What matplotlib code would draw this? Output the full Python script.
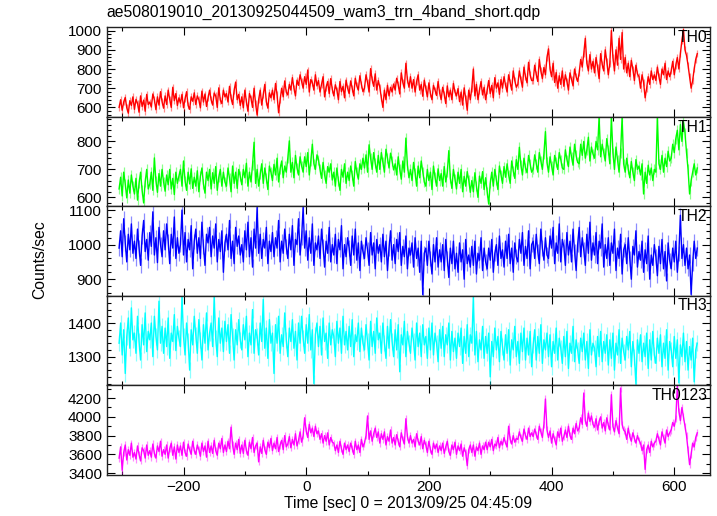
import numpy as np
import matplotlib
matplotlib.use("Agg")
import matplotlib.pyplot as plt
from matplotlib.ticker import MultipleLocator

plt.rcParams['font.family'] = ['Liberation Sans', 'DejaVu Sans']

title = "ae508019010_20130925044509_wam3_trn_4band_short.qdp"
xlabel = "Time [sec] 0 = 2013/09/25 04:45:09"
ylabel = "Counts/sec"
band_names = ["TH0", "TH1", "TH2", "TH3", "TH0123"]

# light-curve bins: start time and bin width (s)
t_start = -305.0
t_bin = 2.5

th0 = [
    600, 640, 585, 628, 652, 598, 570, 635, 610, 655,
    590, 642, 622, 575, 660, 605, 638, 580, 668, 615,
    628, 602, 670, 640, 588, 655, 612, 682, 630, 596,
    660, 615, 690, 642, 600, 705, 635, 672, 610, 650,
    622, 668, 598, 645, 682, 610, 590, 655, 632, 676,
    615, 660, 640, 598, 685, 628, 670, 605, 650, 690,
    640, 612, 675, 660, 600, 702, 638, 620, 690, 655,
    672, 628, 710, 650, 615, 688, 732, 640, 668, 610,
    655, 598, 690, 630, 580, 672, 648, 600, 700, 620,
    560, 640, 690, 612, 668, 720, 630, 596, 676, 650,
    690, 640, 725, 665, 572, 640, 700, 655, 738, 680,
    665, 720, 690, 755, 700, 660, 742, 715, 770, 735,
    700, 760, 720, 795, 680, 745, 730, 690, 770, 712,
    740, 680, 720, 760, 655, 705, 735, 672, 750, 695,
    660, 718, 690, 640, 735, 682, 710, 650, 742, 700,
    672, 738, 700, 660, 752, 712, 690, 765, 720, 682,
    700, 770, 730, 680, 802, 745, 710, 775, 690, 740,
    705, 650, 600, 690, 640, 715, 660, 705, 680, 722,
    690, 752, 718, 670, 780, 730, 700, 830, 745, 705,
    760, 700, 745, 680, 735, 770, 690, 720, 658, 742,
    700, 655, 728, 672, 640, 715, 690, 662, 735, 676,
    640, 705, 668, 620, 712, 655, 690, 640, 725, 680,
    660, 698, 630, 680, 612, 702, 648, 585, 690, 640,
    700, 800, 660, 720, 640, 690, 735, 665, 705, 640,
    690, 740, 672, 715, 650, 755, 700, 728, 668, 745,
    700, 760, 715, 680, 770, 730, 690, 790, 740, 705,
    720, 790, 745, 705, 810, 760, 728, 835, 770, 740,
    740, 820, 772, 735, 850, 790, 750, 808, 770, 860,
    905, 800, 760, 830, 730, 782, 700, 765, 720, 790,
    710, 770, 735, 690, 780, 745, 712, 800, 760, 735,
    780, 850, 810, 880, 960, 830, 790, 875, 800, 840,
    780, 860, 810, 750, 880, 825, 790, 900, 840, 770,
    830, 1000, 860, 790, 900, 820, 960, 850, 990, 800,
    860, 780, 830, 760, 845, 800, 740, 820, 775, 760,
    700, 770, 730, 650, 700, 760, 720, 790, 745, 770,
    740, 810, 760, 720, 800, 770, 830, 745, 790, 760,
    790, 840, 770, 820, 860, 800, 880, 950, 1005, 900,
    870, 820, 760, 700, 740, 800, 850, 880,
]

th1 = [
    630, 672, 605, 690, 648, 598, 662, 615, 680, 640,
    612, 668, 590, 650, 690, 625, 580, 655, 700, 630,
    648, 690, 625, 741, 660, 618, 685, 640, 700, 655,
    622, 680, 645, 700, 630, 668, 610, 690, 650, 676,
    700, 640, 730, 660, 625, 690, 648, 702, 632, 672,
    640, 695, 620, 675, 705, 648, 615, 690, 660, 700,
    630, 688, 650, 710, 625, 672, 700, 640, 690, 655,
    640, 705, 668, 620, 712, 650, 690, 632, 700, 675,
    645, 700, 670, 722, 640, 690, 655, 715, 797, 650,
    700, 640, 682, 720, 650, 705, 668, 628, 712, 690,
    660, 718, 680, 740, 655, 702, 730, 670, 712, 690,
    740, 802, 690, 725, 670, 750, 705, 680, 745, 712,
    690, 745, 710, 760, 680, 730, 790, 720, 700, 752,
    735, 700, 668, 725, 680, 650, 710, 690, 720, 662,
    690, 640, 705, 660, 625, 700, 672, 720, 650, 690,
    660, 712, 680, 640, 728, 690, 665, 720, 700, 740,
    705, 752, 690, 788, 740, 700, 760, 722, 690, 750,
    700, 760, 725, 690, 772, 740, 705, 758, 730, 698,
    720, 680, 745, 700, 665, 730, 690, 812, 715, 670,
    700, 660, 725, 688, 640, 712, 670, 730, 692, 655,
    640, 700, 660, 690, 628, 712, 672, 640, 702, 660,
    685, 640, 710, 655, 690, 767, 668, 632, 700, 665,
    630, 690, 650, 700, 620, 675, 640, 692, 662, 618,
    660, 620, 688, 640, 600, 676, 650, 692, 628, 670,
    620, 576, 650, 690, 640, 700, 662, 628, 712, 680,
    650, 710, 672, 720, 680, 650, 730, 695, 668, 735,
    700, 779, 715, 680, 740, 705, 688, 750, 720, 690,
    700, 752, 720, 690, 760, 730, 700, 755, 835, 725,
    690, 745, 712, 680, 750, 725, 700, 760, 735, 705,
    700, 770, 735, 710, 780, 745, 715, 790, 750, 725,
    720, 790, 750, 800, 740, 770, 815, 730, 780, 755,
    740, 800, 770, 888, 745, 790, 760, 730, 810, 770,
    720, 888, 760, 700, 780, 735, 690, 760, 888, 720,
    690, 740, 700, 670, 728, 690, 660, 735, 700, 712,
    680, 720, 612, 690, 650, 715, 680, 705, 660, 700,
    690, 888, 720, 700, 750, 690, 740, 710, 765, 730,
    740, 790, 760, 810, 840, 770, 860, 800, 870, 830,
    760, 700, 612, 660, 690, 720, 680, 705,
]

th2 = [
    990, 1040, 965, 1075, 1005, 950, 1030, 985, 1060, 975,
    1010, 960, 1045, 990, 940, 1025, 1070, 980, 1015, 955,
    1035, 995, 1095, 970, 1020, 948, 1050, 1000, 965, 1040,
    985, 1060, 1010, 945, 1030, 990, 1080, 960, 1020, 975,
    1000, 1100, 970, 1035, 950, 1015, 985, 1055, 930, 1010,
    1045, 975, 1020, 960, 1065, 995, 940, 1030, 1005, 1050,
    965, 1025, 990, 1060, 950, 1015, 980, 1040, 920, 1005,
    1030, 985, 1070, 960, 1010, 945, 1050, 995, 1025, 970,
    1000, 950, 1040, 985, 1065, 965, 1020, 935, 1045, 990,
    1108, 975, 1030, 960, 1015, 990, 1050, 945, 1010, 980,
    1035, 965, 1020, 990, 1070, 950, 1010, 975, 1045, 995,
    960, 1030, 985, 1055, 940, 1015, 1000, 1075, 970, 1020,
    1108, 990, 1040, 955, 1020, 975, 1060, 940, 1005, 985,
    1025, 960, 1045, 995, 935, 1010, 975, 1050, 950, 1000,
    970, 1030, 945, 1015, 985, 1055, 930, 1000, 965, 1020,
    990, 940, 1025, 970, 1045, 955, 1005, 925, 1010, 980,
    960, 1020, 985, 940, 1035, 970, 1005, 930, 1015, 975,
    1000, 950, 1030, 965, 1010, 925, 990, 1040, 955, 1000,
    945, 1015, 980, 1035, 940, 995, 965, 1025, 930, 990,
    970, 1005, 935, 1020, 960, 990, 920, 1010, 855, 975,
    990, 940, 1010, 960, 915, 1000, 950, 1020, 935, 985,
    950, 1000, 925, 1015, 960, 905, 990, 945, 1010, 930,
    975, 920, 1005, 950, 985, 900, 1015, 945, 970, 935,
    995, 940, 1010, 915, 975, 955, 1020, 925, 990, 950,
    930, 990, 955, 1015, 920, 975, 1000, 940, 1025, 960,
    985, 935, 1010, 960, 1030, 945, 990, 920, 1005, 965,
    950, 1015, 975, 1035, 940, 995, 960, 1040, 930, 1000,
    1010, 960, 1030, 980, 945, 1045, 990, 955, 1020, 970,
    960, 1025, 990, 1050, 945, 1005, 975, 1060, 950, 1015,
    995, 940, 1035, 970, 1010, 950, 1045, 980, 925, 1000,
    1050, 965, 1020, 985, 940, 1030, 975, 1065, 955, 1005,
    970, 1035, 945, 1010, 990, 1060, 935, 1000, 960, 1020,
    940, 1005, 975, 1045, 925, 990, 960, 1030, 915, 985,
    1000, 945, 1020, 960, 900, 995, 970, 1040, 935, 980,
    955, 1010, 920, 985, 945, 1025, 900, 970, 940, 1000,
    965, 910, 995, 945, 1015, 930, 980, 895, 1005, 955,
    930, 990, 950, 1010, 920, 975, 1085, 960, 1000, 940,
    990, 930, 970, 856, 945, 1010, 960, 990,
]

th3 = [
    1340, 1400, 1305, 1380, 1250, 1360, 1415, 1325, 1445, 1350,
    1370, 1310, 1420, 1345, 1290, 1395, 1335, 1430, 1315, 1375,
    1350, 1400, 1300, 1420, 1360, 1320, 1465, 1340, 1390, 1310,
    1385, 1330, 1415, 1295, 1370, 1345, 1425, 1318, 1390, 1355,
    1330, 1478, 1360, 1305, 1400, 1345, 1260, 1380, 1335, 1420,
    1365, 1310, 1410, 1350, 1290, 1395, 1340, 1430, 1320, 1370,
    1400, 1330, 1478, 1355, 1300, 1415, 1340, 1385, 1315, 1405,
    1345, 1395, 1310, 1425, 1360, 1290, 1380, 1335, 1410, 1350,
    1320, 1395, 1350, 1420, 1300, 1370, 1335, 1440, 1310, 1380,
    1360, 1305, 1400, 1345, 1470, 1325, 1385, 1295, 1410, 1340,
    1370, 1250, 1395, 1340, 1420, 1310, 1365, 1330, 1430, 1350,
    1300, 1385, 1345, 1410, 1325, 1375, 1290, 1400, 1340, 1420,
    1355, 1310, 1395, 1340, 1425, 1320, 1380, 1220, 1365, 1400,
    1330, 1390, 1305, 1415, 1345, 1370, 1295, 1400, 1335, 1380,
    1360, 1300, 1405, 1340, 1385, 1310, 1420, 1335, 1375, 1320,
    1390, 1330, 1410, 1300, 1365, 1345, 1400, 1315, 1385, 1340,
    1320, 1395, 1345, 1290, 1405, 1330, 1375, 1310, 1415, 1350,
    1370, 1310, 1400, 1340, 1295, 1390, 1325, 1410, 1345, 1300,
    1380, 1320, 1395, 1255, 1365, 1335, 1405, 1300, 1375, 1340,
    1310, 1385, 1345, 1290, 1400, 1330, 1370, 1300, 1395, 1335,
    1360, 1295, 1385, 1320, 1400, 1305, 1370, 1340, 1285, 1380,
    1325, 1390, 1300, 1365, 1335, 1400, 1290, 1375, 1315, 1355,
    1295, 1370, 1330, 1385, 1280, 1360, 1310, 1395, 1300, 1365,
    1340, 1478, 1305, 1375, 1285, 1350, 1320, 1390, 1295, 1360,
    1310, 1370, 1240, 1345, 1300, 1385, 1320, 1360, 1285, 1375,
    1330, 1290, 1365, 1310, 1380, 1275, 1350, 1320, 1390, 1300,
    1345, 1280, 1370, 1315, 1385, 1290, 1355, 1305, 1375, 1270,
    1335, 1380, 1290, 1360, 1310, 1395, 1280, 1350, 1320, 1370,
    1300, 1365, 1270, 1345, 1310, 1385, 1290, 1355, 1325, 1280,
    1360, 1300, 1375, 1265, 1340, 1310, 1390, 1285, 1350, 1320,
    1280, 1355, 1315, 1370, 1290, 1345, 1265, 1380, 1305, 1340,
    1325, 1270, 1360, 1300, 1375, 1285, 1345, 1310, 1365, 1275,
    1350, 1295, 1370, 1260, 1340, 1305, 1380, 1280, 1355, 1315,
    1290, 1360, 1320, 1375, 1270, 1345, 1300, 1218, 1350, 1310,
    1365, 1285, 1340, 1300, 1370, 1265, 1350, 1290, 1375, 1305,
    1280, 1355, 1310, 1365, 1270, 1340, 1295, 1380, 1260, 1345,
    1320, 1270, 1360, 1295, 1350, 1222, 1335, 1300, 1370, 1285,
    1345, 1260, 1330, 1290, 1355, 1225, 1320, 1340,
]

th0123 = [
    3560, 3680, 3430, 3620, 3700, 3540, 3650, 3590, 3720, 3570,
    3620, 3550, 3690, 3600, 3530, 3670, 3640, 3560, 3700, 3590,
    3640, 3570, 3710, 3610, 3560, 3690, 3630, 3740, 3580, 3650,
    3600, 3700, 3560, 3660, 3720, 3590, 3680, 3550, 3700, 3620,
    3690, 3590, 3730, 3620, 3580, 3710, 3650, 3600, 3740, 3640,
    3600, 3700, 3650, 3580, 3720, 3630, 3690, 3570, 3740, 3620,
    3690, 3610, 3750, 3640, 3590, 3720, 3660, 3770, 3620, 3700,
    3630, 3740, 3660, 3890, 3700, 3600, 3720, 3650, 3760, 3610,
    3700, 3610, 3750, 3640, 3590, 3730, 3660, 3780, 3620, 3690,
    3720, 3520, 3680, 3610, 3750, 3650, 3600, 3730, 3670, 3770,
    3640, 3720, 3660, 3780, 3630, 3700, 3750, 3650, 3800, 3680,
    3710, 3790, 3670, 3760, 3700, 3820, 3690, 3750, 3840, 3730,
    3800, 3990, 3850, 3780, 3920, 3830, 3880, 3790, 3900, 3820,
    3850, 3760, 3820, 3720, 3800, 3740, 3830, 3700, 3780, 3730,
    3720, 3640, 3700, 3620, 3740, 3660, 3600, 3720, 3650, 3700,
    3630, 3720, 3660, 3600, 3740, 3650, 3700, 3620, 3760, 3680,
    3720, 3800, 4010, 3760, 3850, 3740, 3820, 3880, 3780, 3840,
    3720, 3820, 3760, 3840, 3700, 3790, 3740, 3860, 3720, 3780,
    3700, 3810, 3740, 3680, 3830, 3760, 3710, 3980, 3790, 3720,
    3800, 3720, 3760, 3680, 3820, 3740, 3700, 3790, 3660, 3750,
    3700, 3620, 3740, 3650, 3600, 3720, 3660, 3710, 3620, 3690,
    3640, 3720, 3610, 3680, 3740, 3630, 3590, 3700, 3650, 3730,
    3600, 3690, 3640, 3710, 3580, 3670, 3620, 3480, 3650, 3700,
    3620, 3700, 3580, 3680, 3640, 3720, 3600, 3690, 3650, 3730,
    3650, 3730, 3680, 3760, 3640, 3710, 3690, 3780, 3670, 3740,
    3700, 3780, 3720, 3680, 3900, 3760, 3710, 3800, 3730, 3770,
    3760, 3840, 3780, 3740, 3870, 3800, 3760, 3880, 3790, 3830,
    3790, 3870, 3810, 3760, 3900, 3840, 3780, 3920, 4190, 3860,
    3780, 3850, 3720, 3820, 3760, 3700, 3840, 3780, 3880, 3740,
    3790, 3860, 3780, 3900, 3800, 3760, 3880, 3820, 3930, 3850,
    3880, 3990, 3920, 4254, 3960, 3900, 4040, 3950, 4010, 3920,
    3890, 3980, 3860, 3950, 4000, 3880, 3940, 3850, 3990, 3910,
    3860, 4236, 3900, 3840, 3960, 3880, 3820, 4307, 3920, 3860,
    3840, 3760, 3880, 3790, 3740, 3830, 3770, 3720, 3800, 3750,
    3720, 3640, 3700, 3440, 3650, 3700, 3620, 3740, 3680, 3720,
    3740, 3820, 3760, 3700, 3840, 3780, 3720, 3860, 3790, 3830,
    3860, 3940, 3900, 3980, 4325, 4060, 3960, 4100, 4000, 3900,
    3800, 3650, 3490, 3600, 3720, 3680, 3780, 3830,
]

# statistical error per bin for each band (counts/sec)
errors = [18, 18, 22, 24, 38]

series = [th0, th1, th2, th3, th0123]
colors = ["#ff0000", "#00ff00", "#0000ff", "#00ffff", "#ff00ff"]
ylims = [(551, 1017), (568, 888), (852, 1111), (1215, 1481), (3383, 4337)]
ymajor = [100, 100, 100, 100, 200]
yminor = [20, 20, 20, 20, 100]

fig = plt.figure(figsize=(7.17, 5.16), dpi=100)
axes = fig.subplots(5, 1, sharex=True, gridspec_kw=dict(hspace=0))
fig.subplots_adjust(left=0.149, right=0.990, top=0.947, bottom=0.080)

for ax, y, e, c, yl, ma, mi, name in zip(axes, series, errors, colors, ylims,
                                          ymajor, yminor, band_names):
    t = t_start + t_bin * np.arange(len(y))
    ax.errorbar(t, y, yerr=e, fmt='none', ecolor=c, elinewidth=0.9,
                alpha=0.45, capsize=0)
    ax.plot(t, y, color=c, lw=1.0)
    ax.set_ylim(*yl)
    ax.set_xlim(-325, 658)
    ax.yaxis.set_major_locator(MultipleLocator(ma))
    ax.yaxis.set_minor_locator(MultipleLocator(mi))
    ax.xaxis.set_major_locator(MultipleLocator(200))
    ax.xaxis.set_minor_locator(MultipleLocator(100))
    ax.tick_params(which='both', direction='in', top=True, right=True,
                   labelsize=11, colors='black')
    ax.tick_params(which='major', length=6, width=0.8)
    ax.tick_params(which='minor', length=3, width=0.8)
    for s in ax.spines.values():
        s.set_linewidth(1.0)
        s.set_color('#222222')
    ax.text(0.996, 0.97, name, transform=ax.transAxes, ha='right', va='top',
            fontsize=11.3)

axes[-1].set_xlabel(xlabel, fontsize=11.3, labelpad=2)
fig.text(0.056, 0.496, ylabel, rotation=90, ha='center', va='center', fontsize=11.3)
fig.text(0.149, 0.976, title, ha='left', va='center', fontsize=11.3)

fig.savefig("out.png", dpi=100)
